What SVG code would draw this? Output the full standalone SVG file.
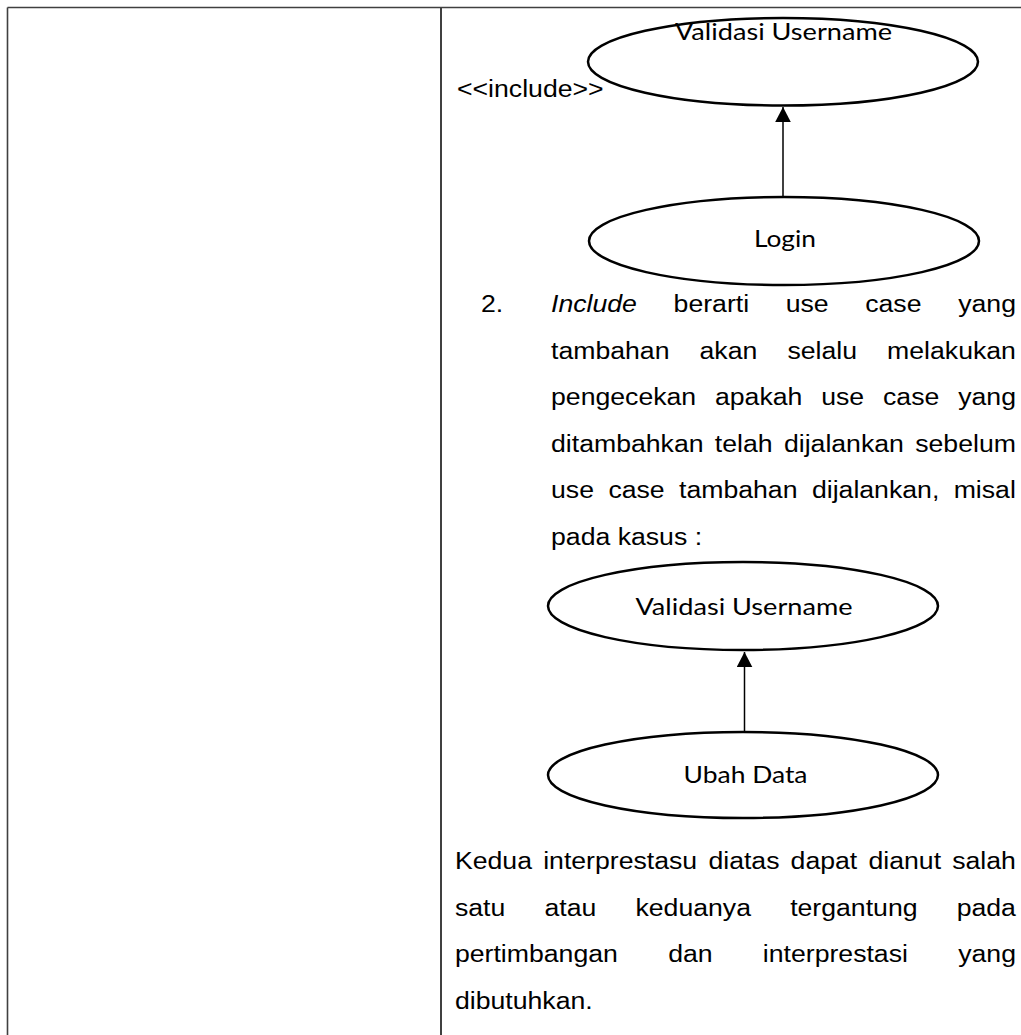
<svg xmlns="http://www.w3.org/2000/svg" width="1021" height="1035" viewBox="0 0 1021 1035">
<style>
.grid{stroke:#404040;stroke-width:1.6;fill:none}
.uc{fill:#fff;stroke:#000;stroke-width:2.5}
.lbl{font-family:Lato,"Open Sans","Liberation Sans",sans-serif;font-size:23px;fill:#000;text-anchor:middle}
.body{font-family:"Liberation Sans",Arial,sans-serif;font-size:23.5px;fill:#000}
.it{font-style:italic}
.conn{stroke:#000;stroke-width:1.5;fill:none}
</style>
<defs>
<marker id="arr" markerUnits="userSpaceOnUse" markerWidth="16" markerHeight="16" refX="15" refY="7.8" orient="auto">
<path d="M0,0 L15,7.8 L0,15.6 z" fill="#000"/>
</marker>
</defs>
<rect width="1021" height="1035" fill="#fff"/>
<g id="table">
<line class="grid" x1="7.5" y1="7.5" x2="1021" y2="7.5"/>
<line class="grid" x1="7.5" y1="7.5" x2="7.5" y2="1035"/>
<line class="grid" x1="441" y1="7.5" x2="441" y2="1035" style="stroke-width:2"/>
</g>
<g id="connectors">
<line class="conn" x1="783" y1="197" x2="783" y2="107" marker-end="url(#arr)"/>
<line class="conn" x1="744.5" y1="734" x2="744.5" y2="652" marker-end="url(#arr)"/>
</g>
<g id="node-validasi-username-1">
<ellipse class="uc" cx="783" cy="61.75" rx="195" ry="43.75"/>
<text class="lbl" x="783.5" y="40" textLength="217" lengthAdjust="spacingAndGlyphs">Validasi Username</text>
</g>
<g id="node-login">
<ellipse class="uc" cx="784" cy="241" rx="195" ry="44"/>
<text class="lbl" x="785" y="247" textLength="62" lengthAdjust="spacingAndGlyphs">Login</text>
</g>
<g id="node-validasi-username-2">
<ellipse class="uc" cx="743" cy="606" rx="195" ry="44"/>
<text class="lbl" x="744" y="615" textLength="217" lengthAdjust="spacingAndGlyphs">Validasi Username</text>
</g>
<g id="node-ubah-data">
<ellipse class="uc" cx="743" cy="775" rx="195" ry="43"/>
<text class="lbl" x="745.5" y="783" textLength="124" lengthAdjust="spacingAndGlyphs">Ubah Data</text>
</g>
<g id="texts" class="body" transform="scale(1.134,1)">
<text x="403" y="97">&lt;&lt;include&gt;&gt;</text>
<text x="424.2" y="312">2.</text>
<text y="312"><tspan class="it" x="485.9">Include</tspan><tspan x="594.0">berarti</tspan><tspan x="692.9">use</tspan><tspan x="763.0">case</tspan><tspan x="845.0">yang</tspan></text>
<text y="358.6"><tspan x="485.9">tambahan</tspan><tspan x="616.9">akan</tspan><tspan x="694.4">selalu</tspan><tspan x="782.3">melakukan</tspan></text>
<text y="405.2"><tspan x="485.9">pengecekan</tspan><tspan x="630.5">apakah</tspan><tspan x="724.2">use</tspan><tspan x="778.7">case</tspan><tspan x="845.0">yang</tspan></text>
<text y="451.8"><tspan x="485.9">ditambahkan</tspan><tspan x="630.4">telah</tspan><tspan x="691.3">dijalankan</tspan><tspan x="807.1">sebelum</tspan></text>
<text y="498.4"><tspan x="485.9">use</tspan><tspan x="536.5">case</tspan><tspan x="598.8">tambahan</tspan><tspan x="716.0">dijalankan,</tspan><tspan x="841.0">misal</tspan></text>
<text x="485.9" y="545">pada kasus :</text>
<text y="869"><tspan x="401.2">Kedua</tspan><tspan x="479.0">interprestasu</tspan><tspan x="624.7">diatas</tspan><tspan x="697.2">dapat</tspan><tspan x="765.9">dianut</tspan><tspan x="839.7">salah</tspan></text>
<text y="915.6"><tspan x="401.2">satu</tspan><tspan x="480.1">atau</tspan><tspan x="560.4">keduanya</tspan><tspan x="696.8">tergantung</tspan><tspan x="843.6">pada</tspan></text>
<text y="962.2"><tspan x="401.2">pertimbangan</tspan><tspan x="589.2">dan</tspan><tspan x="672.7">interprestasi</tspan><tspan x="845.0">yang</tspan></text>
<text x="401.2" y="1008.8">dibutuhkan.</text>
</g>
</svg>
